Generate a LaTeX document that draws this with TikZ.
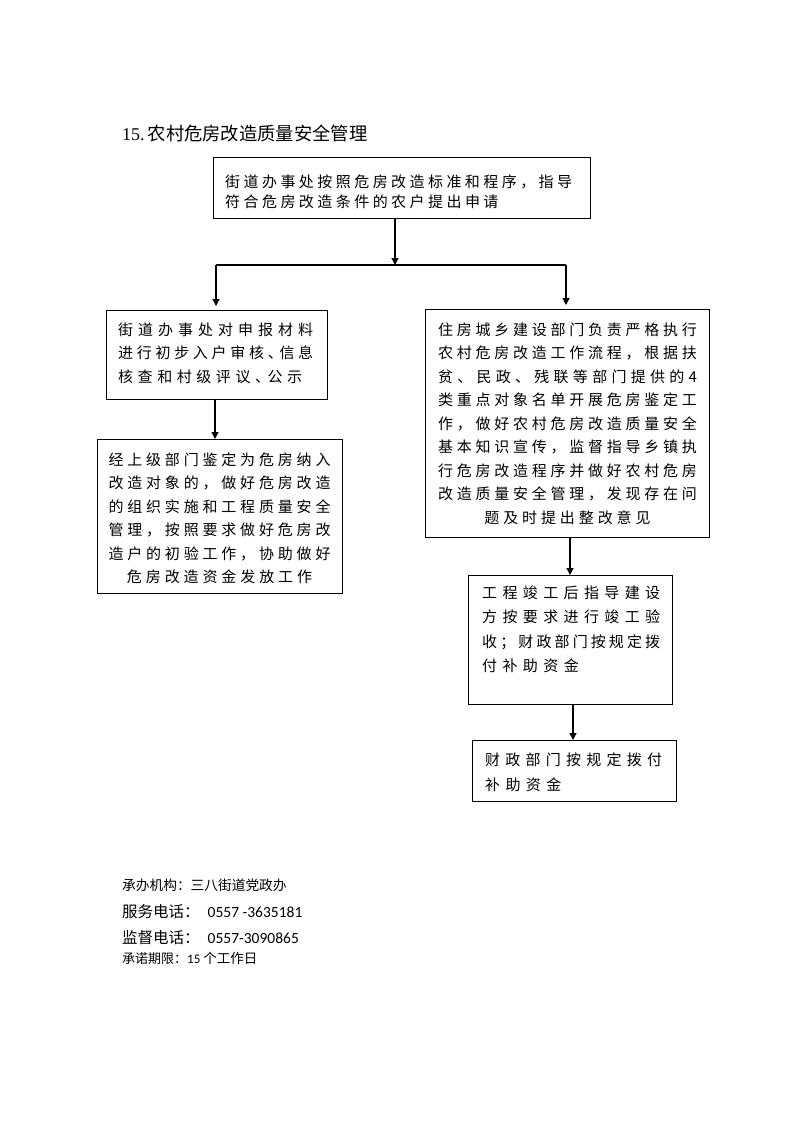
\documentclass[tikz,border=0pt]{standalone}
\usepackage{fontspec}
\setmainfont{Liberation Serif}
\newfontfamily\cjk{Noto Sans CJK SC}
\newfontfamily\cjkA[LetterSpace=23]{Noto Sans CJK SC}
\newfontfamily\cjkD[LetterSpace=26]{Noto Sans CJK SC}
\newfontfamily\cjkE[LetterSpace=36]{Noto Sans CJK SC}
\newfontfamily\cali{Carlito}
\usetikzlibrary{arrows.meta,calc}
\makeatletter
\def\jl#1#2{\hbox to #1{\jl@first#2\relax}}
\def\jl@first#1{#1\jl@rest}
\def\jl@rest#1{\ifx#1\relax\else\hfill#1\expandafter\jl@rest\fi}
\makeatother
\newcommand\dun{\makebox[8pt][l]{、}}
\tikzset{
  box/.style={draw=black, line width=1.2pt, inner sep=0pt, anchor=north west},
  txt/.style={inner sep=0pt, anchor=north west},
  arr/.style={line width=1.2pt, -{Triangle[length=7pt,width=7pt]}},
  ln/.style={line width=1.2pt},
}
\begin{document}
\begin{tikzpicture}[x=1pt,y=-1pt]
\useasboundingbox[fill=white] (0,0) rectangle (793,1122);

% title
\node[inner sep=0pt, anchor=west] (title) at (122,133)
  {\fontsize{18}{18}\selectfont 15.\hspace{3pt}{\cjk\fontsize{18.3}{18}\selectfont 农村危房改造质量安全管理}};

% top box
\node[box, minimum width=377pt, minimum height=61pt] (top) at (213,157) {};
\node[txt, align=left, font={\cjk\fontsize{15}{20}\selectfont}] (toptxt) at (225,174.5)
  {\jl{347pt}{街道办事处按照危房改造标准和程序，指导}\\{\cjkA 符合危房改造条件的农户提出申请}};

% left box 1
\node[box, minimum width=221pt, minimum height=89pt] (lb1) at (106,310) {};
\node[txt, align=left, font={\cjk\fontsize{15}{23.5}\selectfont}] (lb1txt) at (118,322.5)
  {\jl{195pt}{街道办事处对申报材料}\\\jl{195pt}{进行初步入户审核\dun 信息}\\\jl{184pt}{核查和村级评议\dun 公示}};

% left box 2
\node[box, minimum width=245pt, minimum height=154pt] (lb2) at (97,439) {};
\node[inner sep=0pt, anchor=north, align=center, font={\cjk\fontsize{15}{23.4}\selectfont}] (lb2txt) at (219.5,452.5)
  {\jl{222pt}{经上级部门鉴定为危房纳入}\\\jl{222pt}{改造对象的，做好危房改造}\\\jl{222pt}{的组织实施和工程质量安全}\\\jl{222pt}{管理，按照要求做好危房改}\\\jl{222pt}{造户的初验工作，协助做好}\\{\cjkD 危房改造资金发放工作}};

% right box 1
\node[box, minimum width=284pt, minimum height=228pt] (rb1) at (425,309) {};
\node[inner sep=0pt, anchor=north, align=center, font={\cjk\fontsize{15}{23.5}\selectfont}] (rb1txt) at (567.5,322.5)
  {\jl{259pt}{住房城乡建设部门负责严格执行}\\\jl{259pt}{农村危房改造工作流程，根据扶}\\\jl{259pt}{贫、民政、残联等部门提供的 4}\\\jl{259pt}{类重点对象名单开展危房鉴定工}\\\jl{259pt}{作，做好农村危房改造质量安全}\\\jl{259pt}{基本知识宣传，监督指导乡镇执}\\\jl{259pt}{行危房改造程序并做好农村危房}\\\jl{259pt}{改造质量安全管理，发现存在问}\\{\cjkD 题及时提出整改意见}};

% right box 2
\node[box, minimum width=204pt, minimum height=129pt] (rb2) at (468,575) {};
\node[txt, align=left, font={\cjk\fontsize{15}{24.5}\selectfont}] (rb2txt) at (482,585.5)
  {\jl{178pt}{工程竣工后指导建设}\\\jl{178pt}{方按要求进行竣工验}\\\jl{178pt}{收；财政部门按规定拨}\\{\cjkE 付补助资金}};

% right box 3
\node[box, minimum width=204pt, minimum height=61pt] (rb3) at (472,740) {};
\node[txt, align=left, font={\cjk\fontsize{15}{25}\selectfont}] (rb3txt) at (485,752.5)
  {\jl{177pt}{财政部门按规定拨付}\\{\cjkE 补助资金}};

% connectors
\coordinate (j) at (395,265);
\coordinate (jl) at (216,265);
\coordinate (jr) at (566,265);
\draw[arr] (top.south -| j) -- (j);
\draw[ln] (jl) -- (jr);
\draw[arr, shorten >=4pt] (jl) -- (lb1.north -| jl);
\draw[arr, shorten >=4pt] (jr) -- (rb1.north -| jr);
\coordinate (c1) at (215,0);
\draw[arr] (lb1.south -| c1) -- (lb2.north -| c1);
\coordinate (c2) at (570,0);
\draw[arr] (rb1.south -| c2) -- (rb2.north -| c2);
\coordinate (c3) at (573,0);
\draw[arr] (rb2.south -| c3) -- (rb3.north -| c3);

% footer
\node[inner sep=0pt, anchor=west] (f1) at (122,885)
  {\cjk\fontsize{13.7}{14}\selectfont 承办机构：三八街道党政办};
\node[inner sep=0pt, anchor=west] (f2) at (122,912)
  {{\cjk\fontsize{15.5}{16}\selectfont 服务电话：}\hspace{8pt}{\cali\fontsize{15.5}{16}\selectfont 0557 -3635181}};
\node[inner sep=0pt, anchor=west] (f3) at (122,938)
  {{\cjk\fontsize{15.5}{16}\selectfont 监督电话：}\hspace{8pt}{\cali\fontsize{15.5}{16}\selectfont 0557-3090865}};
\node[inner sep=0pt, anchor=west] (f4) at (122,958)
  {{\cjk\fontsize{13}{14}\selectfont 承诺期限：}{\cali\fontsize{13}{14}\selectfont 15 }{\cjk\fontsize{13.5}{14}\selectfont 个工作日}};
\end{tikzpicture}
\end{document}
